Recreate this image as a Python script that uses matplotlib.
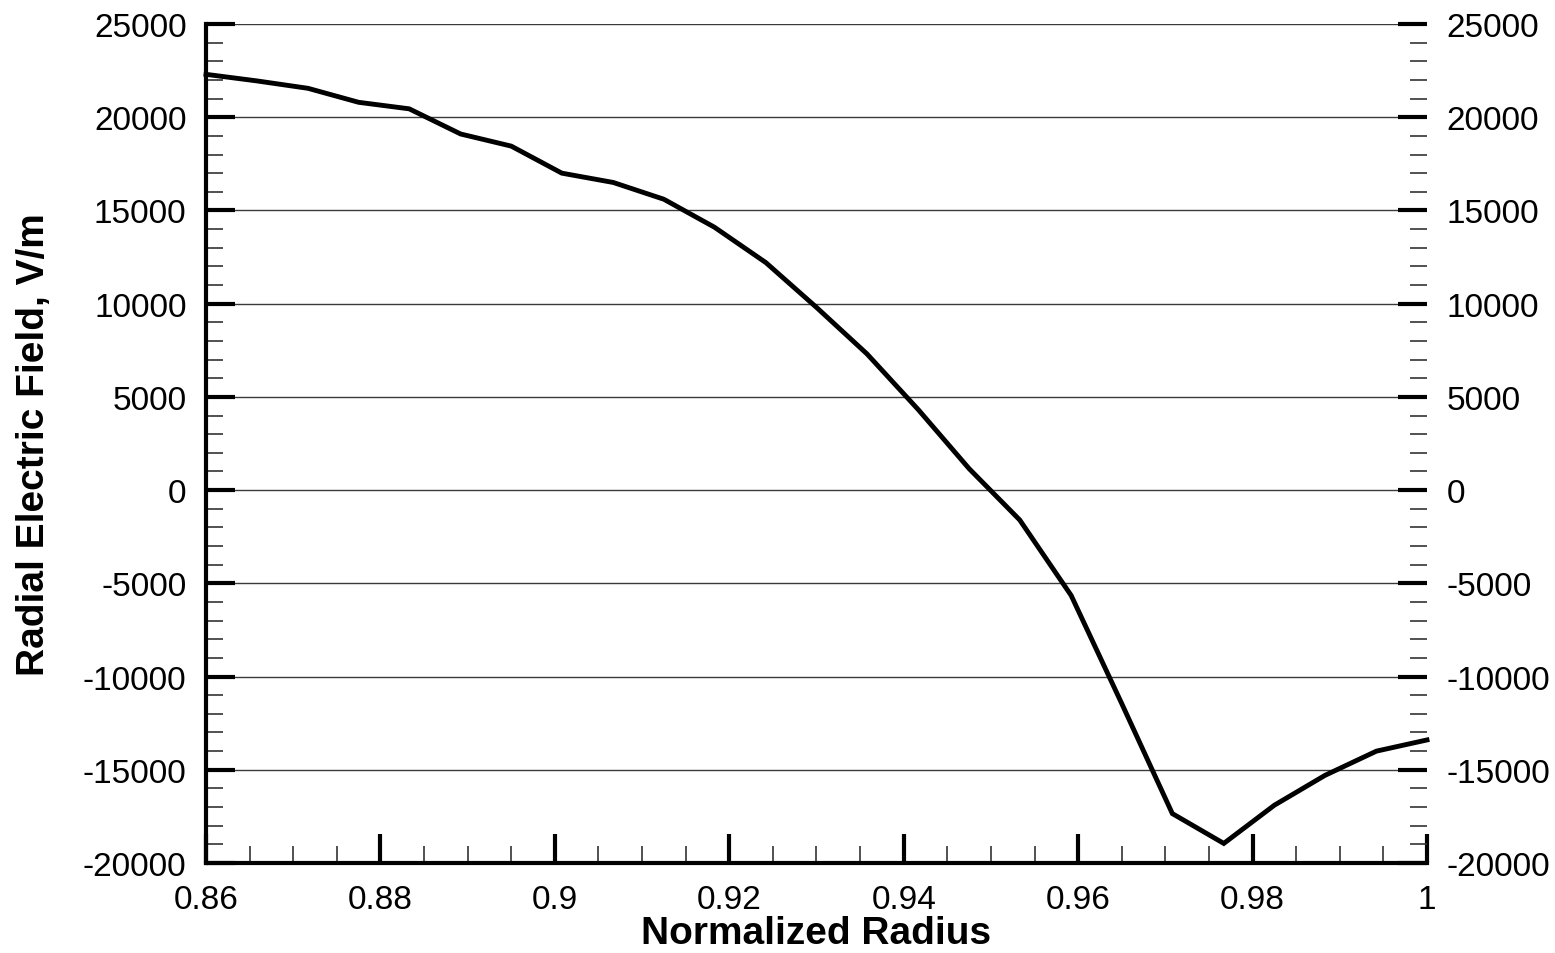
import numpy as np
import matplotlib
matplotlib.use("Agg")
import matplotlib.pyplot as plt
from matplotlib.ticker import MultipleLocator

# normalized radius samples
radius = [0.86, 0.8658, 0.8717, 0.8775, 0.8833, 0.8892, 0.895, 0.9008,
          0.9067, 0.9125, 0.9183, 0.9242, 0.93, 0.9358, 0.9417, 0.9475,
          0.9533, 0.9592, 0.965, 0.9708, 0.9767, 0.9825, 0.9883, 0.9942, 1.0]

# radial electric field, V/m
e_field = [22300, 21950, 21550, 20800, 20450, 19100, 18450, 17000,
           16500, 15600, 14100, 12200, 9800, 7300, 4300, 1150,
           -1600, -5650, -11450, -17350, -18950, -16900, -15300, -14000, -13400]

x_ticks = [0.86, 0.88, 0.9, 0.92, 0.94, 0.96, 0.98, 1.0]
x_tick_labels = ["0.86", "0.88", "0.9", "0.92", "0.94", "0.96", "0.98", "1"]
y_ticks = [-20000, -15000, -10000, -5000, 0, 5000, 10000, 15000, 20000, 25000]

plt.rcParams['font.family'] = ['Liberation Sans', 'DejaVu Sans']

fig = plt.figure(figsize=(15.55, 9.54), dpi=100)
ax = fig.add_axes([206 / 1555, 90 / 954, (1427 - 206) / 1555, (864 - 25) / 954])

ax.plot(radius, e_field, color='black', lw=3.5, solid_joinstyle='miter', zorder=3, clip_on=False)

ax.set_xlim(0.86, 1.0)
ax.set_ylim(-20000, 25000)
ax.set_xticks(x_ticks)
ax.set_xticklabels(x_tick_labels)
ax.set_yticks(y_ticks)
ax.set_yticklabels([str(v) for v in y_ticks])
ax.xaxis.set_minor_locator(MultipleLocator(0.005))
ax.yaxis.set_minor_locator(MultipleLocator(1000))

ax.grid(axis='y', which='major', color='#3a3a3a', lw=1.0, zorder=1)

for side in ['top', 'right']:
    ax.spines[side].set_visible(False)
for side in ['left', 'bottom']:
    ax.spines[side].set_linewidth(3)

ax.tick_params(axis='y', which='both', direction='in', left=True, right=True,
               labelleft=True, labelright=True, labelsize=24, pad=14)
ax.tick_params(axis='x', which='both', direction='in', top=False,
               labelsize=24, pad=15)
ax.tick_params(which='major', length=21, width=3)
ax.tick_params(which='minor', length=12, width=1.2, color='#333333')

ax.set_xlabel('Normalized Radius', fontsize=28, fontweight='bold', labelpad=0)
ax.set_ylabel('Radial Electric Field, V/m', fontsize=28, fontweight='bold', labelpad=22)

fig.savefig('out.png', dpi=100)
